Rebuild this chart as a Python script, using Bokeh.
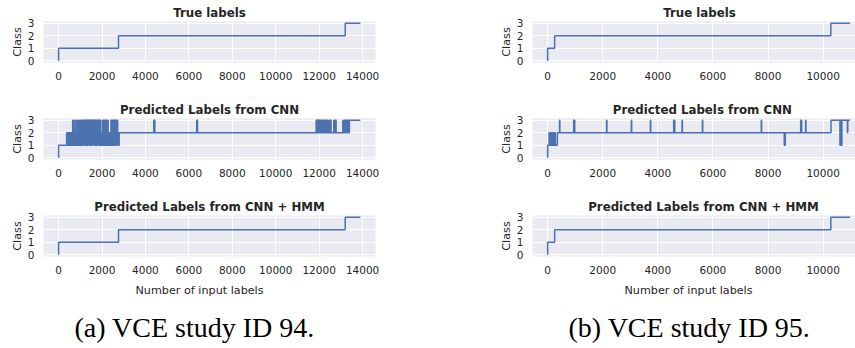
import numpy as np
from bokeh.plotting import figure
from bokeh.layouts import row, column
from bokeh.models import Range1d, FixedTicker, Title
from bokeh.embed import file_html
from bokeh.resources import INLINE

# ---------------- data ----------------
N_94 = 13900
N_95 = 10980
class_ticks = [0, 1, 2, 3]
x_ticks_94 = [0, 2000, 4000, 6000, 8000, 10000, 12000, 14000]
x_ticks_95 = [0, 2000, 4000, 6000, 8000, 10000, 12000]

titles = ["True labels", "Predicted Labels from CNN", "Predicted Labels from CNN + HMM"]
captions = ["(a) VCE study ID 94.", "(b) VCE study ID 95."]
x_label = "Number of input labels"
y_label = "Class"

# runs: first frame of each run and the class held until the next run
true94_start = [0, 1, 2760, 13200]
true94_class = [0, 1, 2, 3]
hmm94_start = [0, 1, 2760, 13200]
hmm94_class = [0, 1, 2, 3]
cnn94_start = [0, 1, 370, 13160]
cnn94_class = [0, 1, 2, 3]

true95_start = [0, 1, 255, 10280]
true95_class = [0, 1, 2, 3]
hmm95_start = [0, 1, 255, 10280]
hmm95_class = [0, 1, 2, 3]
cnn95_start = [0, 1, 353, 10285]
cnn95_class = [0, 1, 2, 3]

# short CNN excursions: (first frame, end frame)
cnn94_to1 = [(385, 410), (440, 465), (492, 517), (548, 573), (600, 625), (655, 680),
             (712, 737), (765, 790), (818, 843), (872, 897), (925, 950), (980, 1005),
             (1035, 1060), (1088, 1113), (1142, 1167), (1195, 1220), (1250, 1275),
             (1305, 1330), (1358, 1383), (1410, 1435), (1466, 1491), (1520, 1545),
             (1575, 1600), (1628, 1653), (1680, 1705), (1735, 1760), (1790, 1815),
             (1842, 1867), (1897, 1922), (1950, 1975), (2005, 2030), (2058, 2083),
             (2112, 2137), (2165, 2190), (2220, 2245), (2275, 2300), (2328, 2353),
             (2380, 2405), (2436, 2461), (2490, 2515), (2545, 2570), (2598, 2623),
             (2652, 2677), (2705, 2730), (2760, 2790)]
cnn94_to3 = [(648, 668), (700, 716), (790, 806), (878, 894), (945, 960), (1000, 1015),
             (1050, 1065), (1108, 1130), (1150, 1172), (1192, 1214), (1236, 1258),
             (1278, 1300), (1320, 1342), (1364, 1386), (1406, 1428), (1450, 1472),
             (1492, 1514), (1536, 1558), (1578, 1600), (1622, 1644), (1664, 1686),
             (1708, 1730), (1750, 1772), (1794, 1816), (1836, 1858), (1880, 1902),
             (1922, 1944), (2032, 2052), (2076, 2096), (2120, 2140), (2166, 2186),
             (2212, 2232), (2262, 2282), (2412, 2432), (2452, 2472), (2494, 2514),
             (2536, 2556), (2578, 2598), (2620, 2640), (2662, 2682), (2700, 2720),
             (4385, 4400), (4418, 4432), (6360, 6372), (6385, 6398),
             (11862, 11884), (11900, 11922), (11940, 11962), (11980, 12002),
             (12020, 12042), (12060, 12082), (12140, 12162), (12180, 12202),
             (12220, 12242), (12300, 12322), (12340, 12362), (12380, 12400),
             (12470, 12490), (12520, 12548), (12675, 12695), (12740, 12780),
             (13090, 13105)]
cnn94_to2 = [(13200, 13215), (13280, 13300), (13340, 13392)]

cnn95_to2 = [(52, 66), (82, 96), (112, 126), (142, 156), (172, 186), (202, 216),
             (232, 246), (262, 280), (10880, 10895)]
cnn95_to3 = [(432, 444), (945, 958), (972, 985), (2140, 2152), (3038, 3050),
             (3730, 3742), (4575, 4587), (4603, 4615), (4880, 4892), (5618, 5630),
             (7755, 7767), (9185, 9197), (9210, 9222), (9365, 9377)]
cnn95_to1 = [(8590, 8602), (8615, 8627), (10610, 10625), (10640, 10655), (10668, 10682)]

# ---------------- build per-frame labels ----------------
def frame_labels(n, starts, classes, excursions=()):
    lab = np.zeros(n)
    ends = list(starts[1:]) + [n]
    for s, e, c in zip(starts, ends, classes):
        lab[s:e] = c
    for spans, c in excursions:
        for s, e in spans:
            lab[s:e] = c
    return lab

def change_points(lab):
    idx = np.r_[0, np.flatnonzero(np.diff(lab)) + 1]
    xs = np.r_[idx, len(lab) - 1]
    ys = np.r_[lab[idx], lab[-1]]
    return xs, ys

series94 = [
    frame_labels(N_94, true94_start, true94_class),
    frame_labels(N_94, cnn94_start, cnn94_class, [(cnn94_to1, 1), (cnn94_to3, 3), (cnn94_to2, 2)]),
    frame_labels(N_94, hmm94_start, hmm94_class),
]
series95 = [
    frame_labels(N_95, true95_start, true95_class),
    frame_labels(N_95, cnn95_start, cnn95_class, [(cnn95_to2, 2), (cnn95_to3, 3), (cnn95_to1, 1)]),
    frame_labels(N_95, hmm95_start, hmm95_class),
]

# ---------------- styling ----------------
BG = "#EAEAF2"
LINE = "#4C72B0"
TXT = "#262626"
SANS = "DejaVu Sans"
FRAME_H = 41
TOP = 21

def make_fig(lab, n, x_end, xticks, frame_w, mb_left, mb_right, mb_bottom, title, title_left):
    p = figure(frame_width=frame_w, frame_height=FRAME_H,
               x_range=Range1d(-0.05 * n, x_end), y_range=Range1d(-0.15, 3.15),
               min_border_left=mb_left, min_border_right=mb_right,
               min_border_top=TOP, min_border_bottom=mb_bottom,
               toolbar_location=None, tools="", output_backend="svg")
    p.background_fill_color = BG
    p.border_fill_color = "white"
    p.outline_line_color = None
    xs, ys = change_points(lab)
    p.step(x=xs, y=ys, mode="after", line_color=LINE, line_width=1.5)
    p.xaxis.ticker = FixedTicker(ticks=xticks)
    p.yaxis.ticker = FixedTicker(ticks=class_ticks)
    for ax in (p.xaxis[0], p.yaxis[0]):
        ax.axis_line_color = None
        ax.major_tick_line_color = None
        ax.minor_tick_line_color = None
        ax.major_tick_out = 0
        ax.major_tick_in = 0
        ax.major_label_text_font = SANS
        ax.major_label_text_font_size = "10.5px"
        ax.major_label_text_color = TXT
    p.xaxis.major_label_standoff = 9
    p.yaxis.major_label_standoff = 9
    p.yaxis.axis_label = y_label
    p.yaxis.axis_label_text_font = SANS
    p.yaxis.axis_label_text_font_size = "11.2px"
    p.yaxis.axis_label_text_font_style = "normal"
    p.yaxis.axis_label_text_color = TXT
    p.yaxis.axis_label_standoff = 1
    p.grid.grid_line_color = "white"
    p.grid.grid_line_width = 1
    p.title.text = title
    if title_left is None:
        p.title.align = "center"
    else:
        p.title.align = "left"
        p.title.offset = title_left
    p.title.standoff = 3
    p.title.vertical_align = "bottom"
    p.title.text_font = SANS
    p.title.text_font_size = "11.8px"
    p.title.text_font_style = "bold"
    p.title.text_color = TXT
    return p

def add_bottom_texts(p, xlab_left, cap_left, caption):
    p.add_layout(Title(text=x_label, align="left", offset=xlab_left, standoff=14,
                       vertical_align="top", text_font=SANS, text_font_size="11.2px",
                       text_font_style="normal", text_color=TXT), "below")
    p.add_layout(Title(text=caption, align="left", offset=cap_left, standoff=12,
                       vertical_align="top", text_font="Liberation Serif",
                       text_font_size="28px", text_font_style="normal",
                       text_color="black"), "below")

x_end_94 = N_94 * 1.05
x_end_95 = -0.05 * N_95 + 323 / 0.02755  # right panel is cut by the page edge

# left offsets of the right-column titles (their frame is cut at the page edge)
right_title_left = [130.7, 80.3, 55.7]

left_figs, right_figs = [], []
for i in range(3):
    mb_bottom = 91 if i == 2 else 97 - TOP - FRAME_H
    left_figs.append(make_fig(series94[i], N_94, x_end_94, x_ticks_94, 332, 43, 105,
                              mb_bottom, titles[i], None))
    right_figs.append(make_fig(series95[i], N_95, x_end_95, x_ticks_95, 323, 52, 0,
                               mb_bottom, titles[i], right_title_left[i]))

add_bottom_texts(left_figs[2], 92, 31, captions[0])
add_bottom_texts(right_figs[2], 92, 36, captions[1])

layout = column(*[row(left_figs[i], right_figs[i]) for i in range(3)])

open("out.html", "w").write(file_html(layout, INLINE))
